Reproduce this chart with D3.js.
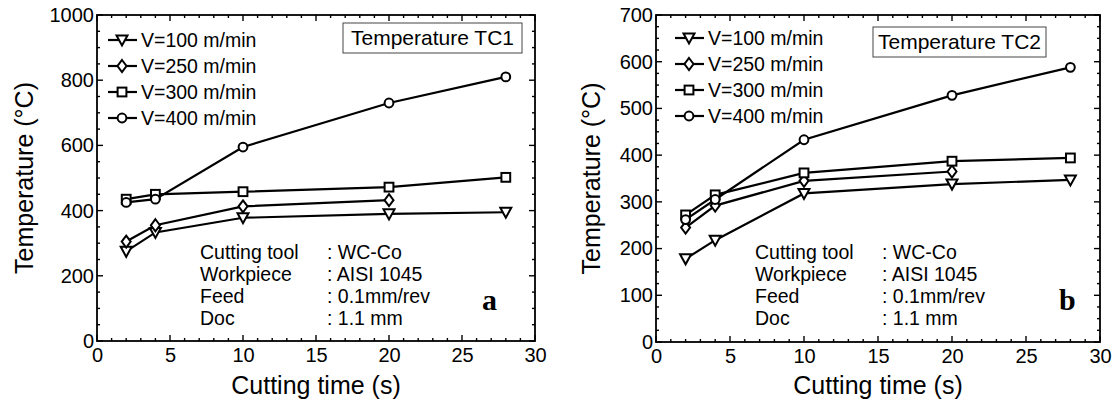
<html>
<script src="https://d3js.org/d3.v7.min.js"></script>
<style>
  body { margin: 0; background: white; }
  text { font-family: "Liberation Sans", Arial, sans-serif; fill: black; }
  .tick text { font-size: 20px; font-family: "Liberation Sans", Arial, sans-serif; }
</style>
<body>
<svg id="chart" width="1115" height="405"></svg>
<script>
// cutting time (s)
var times = [2, 4, 10, 20, 28];
var speeds = ["V=100 m/min", "V=250 m/min", "V=300 m/min", "V=400 m/min"];
var symbols = ["triangle", "diamond", "square", "circle"];

// TC1 temperatures (°C)
var tc1_v100 = [275, 333, 378, 390, 395];
var tc1_v250 = [305, 355, 413, 432];
var tc1_v300 = [435, 450, 458, 472, 502];
var tc1_v400 = [425, 435, 595, 730, 810];

// TC2 temperatures (°C)
var tc2_v100 = [178, 218, 318, 338, 347];
var tc2_v250 = [245, 292, 345, 365];
var tc2_v300 = [272, 315, 362, 387, 394];
var tc2_v400 = [262, 305, 433, 528, 588];

var xTicks = [0, 5, 10, 15, 20, 25, 30];
var info = [["Cutting tool", ": WC-Co"], ["Workpiece", ": AISI 1045"], ["Feed", ": 0.1mm/rev"], ["Doc", ": 1.1 mm"]];

var svg = d3.select("#chart");

function marker(g, type, cx, cy) {
  var s = 4.4;
  if (type == "circle") {
    g.append("circle").attr("cx", cx).attr("cy", cy).attr("r", s);
  } else if (type == "square") {
    g.append("rect").attr("x", cx - s).attr("y", cy - s).attr("width", 2 * s).attr("height", 2 * s);
  } else if (type == "diamond") {
    g.append("path").attr("d", "M" + cx + "," + (cy - 6) + "L" + (cx + 4.5) + "," + cy + "L" + cx + "," + (cy + 6) + "L" + (cx - 4.5) + "," + cy + "Z");
  } else {
    g.append("path").attr("d", "M" + (cx - 5.5) + "," + (cy - 4.5) + "L" + (cx + 5.5) + "," + (cy - 4.5) + "L" + cx + "," + (cy + 5.5) + "Z");
  }
}

function panel(cfg) {
  var x = d3.scaleLinear().domain([0, 30]).range([cfg.left, cfg.right]);
  var y = d3.scaleLinear().domain([0, cfg.ymax]).range([cfg.bottom, cfg.top]);
  var g = svg.append("g");

  // frame
  g.append("rect").attr("x", cfg.left).attr("y", cfg.top)
    .attr("width", cfg.right - cfg.left).attr("height", cfg.bottom - cfg.top)
    .attr("fill", "none").attr("stroke", "black").attr("stroke-width", 1.8);

  // ticks, all four sides, pointing in
  var xMinor = d3.range(0, 31, 1), yMinor = d3.range(0, cfg.ymax + 1, cfg.yminor);
  xMinor.forEach(function(v) {
    var len = v % 5 == 0 ? 6 : 3;
    g.append("line").attr("x1", x(v)).attr("x2", x(v)).attr("y1", cfg.bottom).attr("y2", cfg.bottom - len).attr("stroke", "black").attr("stroke-width", 1.4);
    g.append("line").attr("x1", x(v)).attr("x2", x(v)).attr("y1", cfg.top).attr("y2", cfg.top + len).attr("stroke", "black").attr("stroke-width", 1.4);
  });
  yMinor.forEach(function(v) {
    var len = v % cfg.ystep == 0 ? 6 : 3;
    g.append("line").attr("y1", y(v)).attr("y2", y(v)).attr("x1", cfg.left).attr("x2", cfg.left + len).attr("stroke", "black").attr("stroke-width", 1.4);
    g.append("line").attr("y1", y(v)).attr("y2", y(v)).attr("x1", cfg.right).attr("x2", cfg.right - len).attr("stroke", "black").attr("stroke-width", 1.4);
  });

  // tick labels
  g.append("g").attr("transform", "translate(0," + cfg.bottom + ")")
    .call(d3.axisBottom(x).tickValues(xTicks).tickSize(0).tickPadding(7).tickFormat(d3.format("d")))
    .call(function(a) { a.select(".domain").remove(); });
  g.append("g").attr("transform", "translate(" + cfg.left + ",0)")
    .call(d3.axisLeft(y).tickValues(d3.range(0, cfg.ymax + 1, cfg.ystep)).tickSize(0).tickPadding(3).tickFormat(d3.format("d")))
    .call(function(a) { a.select(".domain").remove(); });

  g.append("text").attr("x", (cfg.left + cfg.right) / 2).attr("y", 394)
    .attr("text-anchor", "middle").style("font-size", "25px").text("Cutting time (s)");
  g.append("text").attr("transform", "translate(" + cfg.titleX + "," + ((cfg.top + cfg.bottom) / 2) + ") rotate(-90)")
    .attr("text-anchor", "middle").style("font-size", "25px").text("Temperature (°C)");

  // series
  var line = d3.line().x(function(d) { return x(d[0]); }).y(function(d) { return y(d[1]); });
  cfg.series.forEach(function(vals, i) {
    var pts = vals.map(function(v, j) { return [times[j], v]; });
    g.append("path").attr("d", line(pts)).attr("fill", "none").attr("stroke", "black").attr("stroke-width", 2.2);
    var mg = g.append("g").attr("fill", "white").attr("stroke", "black").attr("stroke-width", 2);
    pts.forEach(function(p) { marker(mg, symbols[i], x(p[0]), y(p[1])); });
  });

  // legend
  speeds.forEach(function(s, i) {
    var ly = cfg.legY + i * 26;
    g.append("line").attr("x1", cfg.legX).attr("x2", cfg.legX + 29).attr("y1", ly).attr("y2", ly).attr("stroke", "black").attr("stroke-width", 2.2);
    var mg = g.append("g").attr("fill", "white").attr("stroke", "black").attr("stroke-width", 2);
    marker(mg, symbols[i], cfg.legX + 14, ly);
    g.append("text").attr("x", cfg.legX + 33).attr("y", ly + 7).style("font-size", "19.5px").text(s);
  });

  // title box
  g.append("rect").attr("x", cfg.boxX).attr("y", cfg.boxY).attr("width", cfg.boxW).attr("height", 30)
    .attr("fill", "white").attr("stroke", "#444").attr("stroke-width", 1);
  g.append("text").attr("x", cfg.boxX + cfg.boxW / 2).attr("y", cfg.boxY + 22).attr("text-anchor", "middle")
    .style("font-size", "21px").text(cfg.title);

  // info text
  info.forEach(function(r, i) {
    var ty = 259 + i * 22;
    g.append("text").attr("x", cfg.infoX).attr("y", ty).style("font-size", "19.5px").text(r[0]);
    g.append("text").attr("x", cfg.infoX + 127).attr("y", ty).style("font-size", "19.5px").text(r[1]);
  });

  g.append("text").attr("x", cfg.letterX).attr("y", 310).style("font-family", "Liberation Serif, serif")
    .style("font-weight", "bold").style("font-size", "30px").text(cfg.letter);
}

panel({ left: 97, right: 535, top: 15, bottom: 341, ymax: 1000, ystep: 200, yminor: 50,
  series: [tc1_v100, tc1_v250, tc1_v300, tc1_v400], legX: 108, legY: 40, titleX: 33,
  boxX: 343, boxY: 23, boxW: 179, title: "Temperature TC1", infoX: 200, letterX: 482, letter: "a" });

panel({ left: 656, right: 1100, top: 15, bottom: 342, ymax: 700, ystep: 100, yminor: 25,
  series: [tc2_v100, tc2_v250, tc2_v300, tc2_v400], legX: 675, legY: 38, titleX: 600,
  boxX: 873, boxY: 27, boxW: 173, title: "Temperature TC2", infoX: 755, letterX: 1059, letter: "b" });
</script>
</body>
</html>
